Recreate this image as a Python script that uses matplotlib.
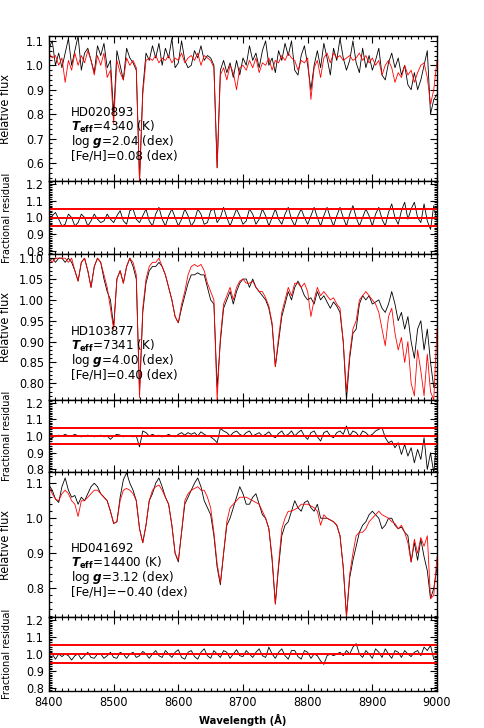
import numpy as np
import matplotlib
matplotlib.use("Agg")
import matplotlib.pyplot as plt
from matplotlib import font_manager
from matplotlib.ticker import MultipleLocator, FormatStrFormatter

# IDL-like narrow sans: condensed DejaVu if present, else Liberation Sans
has_cond = any(f.name == 'DejaVu Sans' and f.stretch == 'condensed'
               for f in font_manager.fontManager.ttflist)
if has_cond:
    plt.rcParams['font.family'] = ['DejaVu Sans']
    plt.rcParams['font.stretch'] = 'condensed'
    base = 'DejaVu Sans:stretch=condensed'
else:
    plt.rcParams['font.family'] = ['Liberation Sans', 'DejaVu Sans']
    base = 'Liberation Sans'
plt.rcParams['mathtext.fontset'] = 'custom'
plt.rcParams['mathtext.rm'] = base
plt.rcParams['mathtext.it'] = base + ':italic'
plt.rcParams['mathtext.bf'] = base + ':bold'
plt.rcParams['mathtext.bfit'] = base + ':italic:bold'

# wavelength grid of the spectra (5 A steps)
wave = np.arange(8400, 9001, 5)

# HD020893
obs1 = [1.07, 1.10, 1.00, 1.05, 0.99, 1.05, 1.11, 1.00, 1.06, 1.12,
        0.98, 1.05, 1.07, 1.02, 0.97, 1.08, 1.04, 1.09, 0.99, 1.02,
        0.80, 1.06, 1.00, 0.94, 1.07, 1.03, 1.01, 0.98, 0.53, 0.90,
        1.05, 1.02, 1.08, 1.03, 1.09, 1.00, 1.07, 1.03, 1.11, 0.99,
        1.01, 1.10, 1.02, 0.99, 1.00, 1.06, 1.03, 1.08, 1.02, 1.04,
        1.03, 1.00, 0.58, 0.98, 1.02, 0.97, 1.01, 0.95, 1.02, 0.96,
        1.03, 1.00, 1.08, 1.02, 1.05, 0.99, 1.06, 1.10, 1.00, 1.03,
        0.97, 1.06, 1.02, 1.09, 1.04, 1.10, 0.98, 0.96, 1.04, 1.08,
        1.00, 0.90, 1.00, 1.06, 0.99, 1.09, 1.03, 0.96, 1.07, 1.02,
        1.11, 1.03, 0.98, 1.02, 1.10, 1.01, 0.97, 1.07, 0.99, 1.04,
        0.98, 1.02, 1.07, 0.96, 0.94, 1.01, 1.05, 0.99, 1.03, 0.96,
        1.00, 0.92, 0.90, 0.97, 0.90, 0.94, 1.00, 1.06, 0.80, 0.86,
        0.88]
mod1 = [1.05, 1.03, 1.04, 1.00, 1.03, 0.93, 1.02, 0.98, 1.05, 1.00,
        1.04, 1.01, 1.06, 1.02, 0.96, 1.04, 1.00, 1.05, 0.95, 0.98,
        0.76, 1.02, 0.97, 0.94, 1.03, 1.00, 1.02, 0.99, 0.52, 0.88,
        1.02, 1.03, 1.02, 1.04, 1.01, 1.03, 1.02, 1.04, 1.01, 1.03,
        1.02, 1.05, 1.01, 1.03, 1.04, 1.02, 1.05, 1.00, 1.04, 1.03,
        1.02, 0.99, 0.58, 0.96, 0.99, 0.94, 1.00, 0.97, 0.90, 0.99,
        1.00, 0.98, 1.02, 0.99, 1.03, 0.97, 1.01, 1.00, 1.03, 0.98,
        1.02, 1.01, 1.04, 1.02, 1.05, 1.03, 1.02, 0.98, 1.02, 1.01,
        1.03, 0.86, 0.99, 1.02, 0.95, 1.03, 1.05, 1.01, 1.05, 1.03,
        1.04, 1.02, 1.03, 1.04, 1.02, 1.03, 1.05, 1.02, 1.04, 1.01,
        1.03, 1.00, 1.02, 0.96, 1.00, 1.02, 0.99, 0.93, 0.97, 0.95,
        1.00, 0.96, 0.98, 0.93, 0.97, 1.00, 1.01, 0.95, 0.84, 0.90,
        1.02]
res1 = [0.98, 1.01, 1.03, 0.99, 0.95, 0.96, 1.02, 1.00, 0.95, 0.97,
        1.02, 1.00, 0.95, 0.98, 1.02, 0.99, 0.97, 0.98, 1.02, 0.99,
        0.97, 1.01, 1.04, 0.98, 0.96, 1.04, 1.05, 0.99, 0.97, 1.01,
        1.05, 0.98, 0.95, 1.02, 1.06, 0.99, 0.95, 1.01, 1.05, 1.00,
        0.95, 0.99, 1.05, 1.01, 0.95, 0.98, 1.05, 1.02, 0.96, 0.97,
        1.04, 1.05, 0.97, 1.00, 1.06, 1.00, 0.95, 1.00, 1.05, 1.01,
        0.96, 0.98, 1.05, 1.02, 0.96, 0.99, 1.05, 1.01, 0.95, 1.00,
        1.05, 0.99, 0.96, 1.02, 1.06, 0.99, 0.95, 1.01, 1.05, 1.00,
        0.96, 1.01, 1.06, 1.00, 0.95, 1.01, 1.06, 1.00, 0.95, 1.01,
        1.06, 1.00, 0.95, 1.02, 1.07, 1.00, 0.95, 1.00, 1.05, 1.01,
        0.95, 1.02, 1.06, 0.99, 0.95, 1.03, 1.08, 1.00, 0.96, 1.04,
        1.09, 0.99, 1.05, 1.09, 1.00, 0.97, 1.08, 0.98, 0.93, 1.07,
        0.98]

# HD103877
obs2 = [1.09, 1.10, 1.09, 1.10, 1.10, 1.09, 1.10, 1.09, 1.07, 1.045,
        1.09, 1.10, 1.07, 1.03, 1.08, 1.10, 1.09, 1.05, 1.02, 1.00,
        0.935, 1.05, 1.07, 1.04, 1.08, 1.10, 1.08, 1.05, 0.78, 0.97,
        1.04, 1.07, 1.08, 1.08, 1.09, 1.08, 1.06, 1.03, 1.00, 0.96,
        0.945, 0.98, 1.01, 1.04, 1.06, 1.06, 1.065, 1.06, 1.06, 1.03,
        1.00, 0.99, 0.79, 0.90, 0.98, 1.00, 1.02, 0.99, 1.02, 1.04,
        1.05, 1.05, 1.03, 1.05, 1.03, 1.02, 1.01, 1.00, 0.98, 0.94,
        0.84, 0.90, 0.96, 0.99, 1.02, 1.00, 1.03, 1.045, 1.03, 1.01,
        1.00, 1.005, 0.99, 1.02, 1.00, 1.01, 0.995, 0.98, 0.995, 0.985,
        0.97, 0.90, 0.76, 0.86, 0.92, 0.93, 0.99, 1.01, 1.00, 1.01,
        0.99, 0.995, 1.00, 0.98, 0.97, 0.99, 1.02, 0.99, 0.95, 0.97,
        0.93, 0.96, 0.90, 0.86, 0.93, 0.95, 0.88, 0.93, 0.85, 0.79,
        0.80]
mod2 = [1.10, 1.09, 1.10, 1.10, 1.10, 1.10, 1.09, 1.10, 1.07, 1.045,
        1.09, 1.10, 1.07, 1.03, 1.08, 1.10, 1.09, 1.06, 1.03, 0.98,
        0.93, 1.05, 1.07, 1.04, 1.08, 1.10, 1.09, 1.06, 0.765, 0.98,
        1.05, 1.08, 1.09, 1.09, 1.10, 1.08, 1.06, 1.03, 1.00, 0.96,
        0.945, 0.99, 1.02, 1.06, 1.08, 1.085, 1.08, 1.085, 1.07, 1.04,
        1.02, 1.00, 0.76, 0.91, 0.99, 1.01, 1.03, 1.00, 1.03, 1.045,
        1.05, 1.04, 1.04, 1.045, 1.03, 1.02, 1.02, 1.005, 0.985, 0.945,
        0.84, 0.91, 0.97, 1.00, 1.03, 1.01, 1.04, 1.04, 1.03, 1.04,
        1.02, 0.96, 1.00, 1.03, 1.01, 1.02, 1.01, 1.00, 1.005, 0.99,
        0.98, 0.90, 0.78, 0.87, 0.93, 0.95, 1.00, 1.01, 1.02, 1.01,
        1.00, 0.99, 0.97, 0.93, 0.89, 0.96, 0.98, 0.92, 0.88, 0.91,
        0.85, 0.90, 0.80, 0.77, 0.88, 0.83, 0.77, 0.87, 0.78, 0.76,
        0.93]
res2 = [1.00, 0.99, 1.00, 1.005, 1.00, 1.01, 1.00, 1.00, 1.01, 1.00,
        0.995, 1.00, 1.005, 1.00, 0.995, 1.00, 1.005, 0.995, 1.00, 0.98,
        1.00, 1.01, 1.005, 0.995, 1.00, 1.00, 0.995, 1.00, 0.935, 1.03,
        1.02, 1.00, 1.01, 1.00, 1.005, 0.995, 1.00, 1.01, 1.00, 0.995,
        1.01, 1.02, 1.005, 1.02, 1.01, 1.02, 1.00, 1.025, 1.01, 1.00,
        0.995, 0.98, 0.96, 1.045, 1.03, 1.02, 1.00, 1.02, 1.03, 1.01,
        1.00, 1.02, 1.03, 1.00, 1.01, 1.02, 1.00, 1.01, 1.025, 1.00,
        0.99, 1.015, 1.03, 1.00, 1.01, 1.03, 1.00, 1.02, 1.035, 1.00,
        0.98, 1.02, 1.03, 0.995, 0.97, 1.02, 1.03, 1.00, 0.99, 1.02,
        1.03, 1.01, 1.06, 1.00, 1.03, 1.02, 0.995, 1.03, 1.02, 1.00,
        1.01, 1.03, 1.04, 1.05, 0.99, 0.96, 0.97, 0.93, 0.96, 0.89,
        0.95, 0.88, 0.93, 0.84, 0.92, 0.86, 0.99, 0.80, 0.90, 0.78,
        0.99]

# HD041692
obs3 = [1.095, 1.08, 1.055, 1.045, 1.09, 1.115, 1.08, 1.06, 1.065, 1.04,
        1.06, 1.05, 1.07, 1.09, 1.10, 1.09, 1.07, 1.06, 1.05, 1.02,
        0.985, 0.99, 1.06, 1.11, 1.13, 1.10, 1.08, 1.05, 0.97, 0.93,
        0.98, 1.05, 1.07, 1.10, 1.115, 1.09, 1.06, 1.04, 0.98, 0.90,
        0.875, 0.96, 1.04, 1.06, 1.08, 1.10, 1.115, 1.09, 1.05, 1.03,
        1.01, 0.95, 0.86, 0.81, 0.90, 0.98, 1.00, 1.03, 1.06, 1.09,
        1.07, 1.04, 1.04, 1.06, 1.07, 1.04, 1.01, 1.00, 0.97, 0.88,
        0.755, 0.86, 0.95, 0.98, 0.99, 1.02, 1.05, 1.03, 1.02, 1.045,
        1.05, 1.03, 1.02, 1.04, 1.00, 1.00, 1.00, 0.995, 0.99, 0.98,
        0.95, 0.86, 0.72, 0.83, 0.88, 0.92, 0.96, 0.98, 0.99, 1.01,
        1.02, 1.01, 1.00, 0.97, 0.98, 1.00, 1.00, 0.98, 0.97, 0.975,
        0.96, 0.95, 0.875, 0.93, 0.88, 0.94, 0.89, 0.85, 0.77, 0.80,
        0.86]
mod3 = [1.09, 1.07, 1.055, 1.05, 1.07, 1.08, 1.07, 1.05, 1.04, 1.005,
        1.05, 1.05, 1.06, 1.07, 1.08, 1.08, 1.07, 1.06, 1.05, 1.02,
        0.985, 0.99, 1.05, 1.08, 1.085, 1.08, 1.07, 1.05, 0.97, 0.93,
        0.98, 1.05, 1.08, 1.09, 1.095, 1.08, 1.06, 1.04, 0.98, 0.90,
        0.88, 0.96, 1.05, 1.07, 1.08, 1.085, 1.09, 1.08, 1.08, 1.06,
        1.03, 0.96, 0.87, 0.815, 0.90, 0.99, 1.03, 1.04, 1.05, 1.06,
        1.06, 1.06, 1.055, 1.05, 1.045, 1.04, 1.02, 1.00, 0.97, 0.89,
        0.755, 0.87, 0.97, 1.00, 1.02, 1.02, 1.025, 1.03, 1.04, 1.04,
        1.04, 1.035, 1.03, 1.02, 0.98, 1.01, 1.00, 0.995, 0.99, 0.98,
        0.95, 0.86, 0.72, 0.84, 0.90, 0.95, 0.96, 0.96, 0.97, 0.99,
        1.00, 1.01, 1.02, 1.01, 1.005, 1.00, 0.99, 0.985, 0.97, 0.98,
        0.96, 0.93, 0.875, 0.94, 0.90, 0.945, 0.92, 0.95, 0.77, 0.78,
        0.89]
res3 = [0.99, 1.00, 0.97, 1.00, 0.985, 1.00, 0.99, 0.965, 0.99, 1.00,
        0.97, 0.99, 1.01, 0.98, 0.975, 1.00, 1.00, 0.975, 0.99, 1.01,
        0.98, 0.975, 1.01, 1.00, 0.975, 1.00, 1.01, 0.98, 0.99, 1.015,
        1.00, 0.975, 1.00, 1.02, 0.99, 0.98, 1.02, 1.00, 0.98, 1.01,
        1.025, 0.98, 0.97, 1.01, 1.02, 0.985, 0.97, 1.01, 1.03, 0.99,
        0.975, 1.02, 1.00, 0.98, 1.02, 1.01, 0.975, 1.00, 1.025, 0.99,
        0.985, 1.02, 1.00, 0.98, 1.01, 1.03, 0.99, 0.98, 1.04, 1.00,
        0.975, 1.01, 1.03, 0.99, 0.97, 1.02, 1.02, 0.985, 0.97, 1.02,
        1.01, 0.975, 1.00, 0.99, 0.96, 0.94, 0.99, 1.00, 0.99, 1.00,
        1.01, 0.99, 1.02, 1.00, 1.04, 1.06, 1.00, 0.98, 1.02, 1.00,
        0.975, 1.03, 1.01, 0.98, 1.03, 1.00, 0.975, 1.02, 1.01, 0.98,
        1.02, 1.00, 0.985, 1.01, 1.02, 0.99, 1.04, 1.02, 1.05, 0.97,
        0.97]

names = ["HD020893", "HD103877", "HD041692"]
teff = ["4340", "7341", "14400"]
logg = ["2.04", "4.00", "3.12"]
feh = ["0.08", "0.40", "\u22120.40"]

observed = [obs1, obs2, obs3]
models = [mod1, mod2, mod3]
residuals = [res1, res2, res3]

flux_ylim = [(0.526, 1.12), (0.76, 1.11), (0.718, 1.132)]
flux_major = [0.1, 0.05, 0.1]
flux_minor = [0.02, 0.01, 0.02]
flux_fmt = ['%.1f', '%.2f', '%.1f']

# panel edges in pixels from the top of the 485x728 figure
edges = [36, 181, 254, 400, 472, 617, 691]
W, H = 485.0, 728.0
left, right = 49, 437

fig = plt.figure(figsize=(4.85, 7.28), dpi=100)


def style(ax):
    ax.set_xlim(8400, 9000)
    ax.xaxis.set_major_locator(MultipleLocator(100))
    ax.xaxis.set_minor_locator(MultipleLocator(10))
    ax.tick_params(which='both', direction='in', top=True, right=True,
                   labelsize=9, width=0.8)
    ax.tick_params(which='major', length=5)
    ax.tick_params(which='minor', length=2.5)
    for s in ax.spines.values():
        s.set_linewidth(1.0)


for i in range(3):
    top, mid, bot = edges[2 * i], edges[2 * i + 1], edges[2 * i + 2]
    ax = fig.add_axes([left / W, 1 - mid / H, (right - left) / W, (mid - top) / H])
    ax.plot(wave, observed[i], color='black', lw=0.6)
    ax.plot(wave, models[i], color='red', lw=0.6)
    style(ax)
    ax.set_ylim(*flux_ylim[i])
    ax.yaxis.set_major_locator(MultipleLocator(flux_major[i]))
    ax.yaxis.set_minor_locator(MultipleLocator(flux_minor[i]))
    ax.yaxis.set_major_formatter(FormatStrFormatter(flux_fmt[i]))
    ax.tick_params(axis='x', labelbottom=False)
    ax.set_ylabel('Relative flux', fontsize=9)
    ax.yaxis.set_label_coords(-0.095, 0.5)

    lines = [names[i],
             r'$\mathbfit{T}_{\mathbf{eff}}$=' + teff[i] + ' (K)',
             r'log $\mathbfit{g}$=' + logg[i] + ' (dex)',
             '[Fe/H]=' + feh[i] + ' (dex)']
    for k, line in enumerate(lines):
        ax.annotate(line, xy=(0.057, 0.47), xycoords='axes fraction',
                    xytext=(0, -10.4 * k), textcoords='offset points',
                    va='center', ha='left', fontsize=9.5)

    rax = fig.add_axes([left / W, 1 - bot / H, (right - left) / W, (bot - mid) / H])
    rax.plot(wave, residuals[i], color='black', lw=0.6)
    for level in (0.95, 1.0, 1.05):
        rax.axhline(level, color='red', lw=1.4)
    style(rax)
    rax.set_ylim(0.785, 1.215)
    rax.yaxis.set_major_locator(MultipleLocator(0.1))
    rax.yaxis.set_minor_locator(MultipleLocator(0.01))
    rax.yaxis.set_major_formatter(FormatStrFormatter('%.1f'))
    rax.set_ylabel('Fractional residual', fontsize=7.8)
    rax.yaxis.set_label_coords(-0.095, 0.5)
    if i < 2:
        rax.tick_params(axis='x', labelbottom=False)
    else:
        rax.set_xlabel('Wavelength (\u00c5)', fontsize=8, fontweight='bold')

fig.savefig('out.png', dpi=100)
